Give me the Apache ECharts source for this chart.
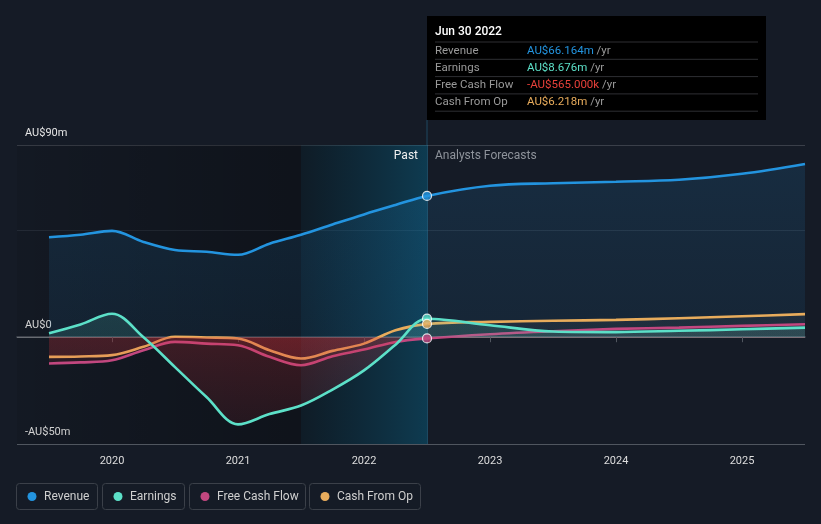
<!DOCTYPE html>
<html><head><meta charset="utf-8">
<script src="https://cdn.jsdelivr.net/npm/echarts@6/dist/echarts.min.js"></script>
<style>html,body{margin:0;padding:0;background:#151b26;}#c{width:821px;height:524px;}</style>
</head><body><div id="c"></div>
<script>
// ---- data ----
const years    = [2019.5, 2019.75, 2020.0, 2020.25, 2020.5, 2020.75, 2021.0, 2021.25, 2021.5, 2021.75, 2022.0, 2022.25, 2022.5, 2023.0, 2023.5, 2024.0, 2024.5, 2025.0, 2025.5];
const revenue  = [46.8, 48.0, 49.8, 44.6, 40.8, 40.0, 38.6, 43.8, 48.0, 52.8, 57.5, 61.9, 66.164, 70.9, 72.1, 72.8, 73.7, 76.5, 81.1];
const earnings = [1.9, 6.0, 11.0, 0.0, -14.0, -28.0, -40.8, -36.0, -32.0, -24.5, -15.5, -3.5, 8.676, 5.6, 2.7, 2.4, 3.0, 3.7, 4.5];
const fcf      = [-12.3, -11.8, -10.8, -6.1, -2.2, -3.0, -3.8, -9.2, -13.1, -8.9, -5.8, -2.2, -0.565, 1.4, 2.8, 3.9, 4.5, 5.3, 6.1];
const cfo      = [-9.2, -9.0, -8.4, -4.5, 0.2, -0.1, -0.6, -6.1, -10.0, -6.4, -3.0, 3.3, 6.218, 7.2, 7.7, 8.1, 8.9, 9.8, 10.8];
const yearTicks = [2020, 2021, 2022, 2023, 2024, 2025];
const yLabelValues = [-50, 0, 90];
const xMin = 2019.246, xMax = 2025.5;
const yMin = -50, yMax = 90;
const pastStart = 2021.5, pastEnd = 2022.5;
const tooltipDate = 'Jun 30 2022';
const seriesNames = ['Revenue', 'Earnings', 'Free Cash Flow', 'Cash From Op'];
const seriesColors = ['#2394df', '#5ce0c8', '#c2477f', '#e8ac5c'];
const valueColors = ['#2394df', '#5ce0c8', '#e8403a', '#e8ac5c'];

const FONT = 'Roboto, "Noto Sans", sans-serif';
const chart = echarts.init(document.getElementById('c'));
const idx = years.indexOf(pastEnd);
const pts = arr => years.map((x, i) => [x, arr[i]]);
const yFmt = v => v === 0 ? 'AU$0' : (v < 0 ? '-AU$' + (-v) + 'm' : 'AU$' + v + 'm');

function line(name, data, color, z, area) {
  return {
    type: 'line', name, data: pts(data), smooth: 0.35, showSymbol: false, z,
    lineStyle: { color, width: 2.6 }, itemStyle: { color },
    areaStyle: area
  };
}

const option = {
  backgroundColor: '#151b26',
  animation: false,
  textStyle: { fontFamily: FONT },
  grid: { left: 17, right: 16, top: 145, bottom: 80 },
  xAxis: {
    type: 'value', min: xMin, max: xMax,
    axisLine: { lineStyle: { color: '#50565f', width: 1.5 } },
    axisTick: { show: true, customValues: yearTicks, length: 5, lineStyle: { color: '#50565f' } },
    axisLabel: { customValues: yearTicks, color: '#dddddd', fontSize: 11, margin: 12, formatter: v => String(Math.round(v)) },
    splitLine: { show: false }
  },
  yAxis: {
    type: 'value', min: yMin, max: yMax, interval: 50,
    axisLine: { show: false }, axisTick: { show: false },
    axisLabel: {
      inside: true, margin: 8, color: '#e6e6e6', fontSize: 11,
      verticalAlign: 'bottom', padding: [0, 0, 6, 0],
      formatter: v => yLabelValues.includes(v) ? yFmt(v) : ''
    },
    splitLine: { lineStyle: { color: ['#50565f', '#d8d8d8', '#262d39', '#3a3f49'], width: 1 } }
  },
  series: []
};
chart.setOption(option);

const xPast = chart.convertToPixel({ xAxisIndex: 0 }, pastEnd);
const yTop = chart.convertToPixel({ yAxisIndex: 0 }, yMax);
const yZero = chart.convertToPixel({ yAxisIndex: 0 }, 0);
const yBot = chart.convertToPixel({ yAxisIndex: 0 }, yMin);
const f0 = (yZero - yTop) / (yBot - yTop);

function signed(rgb, pa0, pa1, na0, na1) {
  return {
    type: 'linear', x: 0, y: yTop, x2: 0, y2: yBot, global: true,
    colorStops: [
      { offset: 0, color: `rgba(${rgb},${pa0})` },
      { offset: f0, color: `rgba(${rgb},${pa1})` },
      { offset: f0, color: `rgba(215,50,58,${na0})` },
      { offset: 1, color: `rgba(215,50,58,${na1})` }
    ]
  };
}

const revenueSeries = line('Revenue', revenue, seriesColors[0], 2, {
  color: { type: 'linear', x: 0, y: 0, x2: 0, y2: 1, colorStops: [
    { offset: 0, color: 'rgba(35,148,223,0.2)' }, { offset: 1, color: 'rgba(35,148,223,0.12)' }] }
});
revenueSeries.markArea = {
  silent: true,
  data: [
    [{ xAxis: xMin, itemStyle: { color: { type: 'linear', x: 0, y: 0, x2: 1, y2: 0, colorStops: [
        { offset: 0, color: 'rgba(0,0,0,0.08)' }, { offset: 1, color: 'rgba(0,0,0,0.3)' }] } } }, { xAxis: pastStart }],
    [{ xAxis: pastStart, itemStyle: { color: { type: 'linear', x: 0, y: 0, x2: 1, y2: 0, colorStops: [
        { offset: 0, color: 'rgba(0,30,40,0.3)' }, { offset: 1, color: 'rgba(0,115,155,0.36)' }] } },
       label: { show: true, formatter: 'Past', position: 'insideTopRight', distance: 5, offset: [-4, 0], color: '#f0f0f0', fontSize: 12 } },
     { xAxis: pastEnd }],
    [{ xAxis: pastEnd, itemStyle: { color: 'rgba(0,0,0,0)' },
       label: { show: true, formatter: 'Analysts Forecasts', position: 'insideTopLeft', distance: 5, offset: [3, 0], color: '#8e939b', fontSize: 12 } },
     { xAxis: xMax }]
  ]
};

const cfoSeries = line('Cash From Op', cfo, seriesColors[3], 3, { color: signed('190,180,170', 0.1, 0.08, 0.2, 0.06) });
const fcfSeries = line('Free Cash Flow', fcf, seriesColors[2], 4, { color: signed('190,180,170', 0.08, 0.06, 0.2, 0.06) });
const earnSeries = line('Earnings', earnings, seriesColors[1], 5, { color: signed('92,224,200', 0.32, 0.18, 0.32, 0.1) });

const dotSeries = {
  type: 'scatter', z: 10, symbolSize: 9,
  data: [revenue, earnings, fcf, cfo].map((arr, i) => ({
    value: [years[idx], arr[idx]],
    itemStyle: { color: seriesColors[i], borderColor: '#ffffff', borderWidth: 1.2 }
  }))
};

const vline = {
  type: 'line', data: [], z: 1,
  markLine: { silent: true, symbol: 'none', label: { show: false },
    lineStyle: { color: 'rgba(40,130,170,0.45)', width: 1, type: 'solid' },
    data: [{ xAxis: pastEnd }] }
};

// tooltip graphic
function money(v) {
  const s = v < 0 ? '-' : '';
  const a = Math.abs(v);
  return a < 1 ? s + 'AU$' + (a * 1000).toFixed(3) + 'k' : s + 'AU$' + a.toFixed(3) + 'm';
}
const boxX = xPast, boxY = 16, boxW = 339, boxH = 104;
const g = [];
g.push({ type: 'line', shape: { x1: xPast, y1: boxY + boxH, x2: xPast, y2: yTop }, style: { stroke: 'rgba(40,130,170,0.45)', lineWidth: 1 }, z: 20 });
g.push({ type: 'rect', shape: { x: boxX, y: boxY, width: boxW, height: boxH }, style: { fill: '#000000' }, z: 20 });
g.push({ type: 'text', x: boxX + 8, y: boxY + 16, style: { text: tooltipDate, fill: '#ffffff', fontSize: 12, fontWeight: 500, fontFamily: FONT, verticalAlign: 'middle' }, z: 21 });
const rowY0 = boxY + 26;
const rowH = 17.3;
const vals = [revenue[idx], earnings[idx], fcf[idx], cfo[idx]];
for (let i = 0; i <= 4; i++) {
  g.push({ type: 'line', shape: { x1: boxX + 8, y1: rowY0 + i * rowH, x2: boxX + boxW - 8, y2: rowY0 + i * rowH }, style: { stroke: '#2e2f33', lineWidth: 1 }, z: 21 });
}
seriesNames.forEach((n, i) => {
  const cy = rowY0 + i * rowH + rowH / 2;
  g.push({ type: 'text', x: boxX + 8, y: cy, style: { text: n, fill: '#9a9a9a', fontSize: 11.5, fontFamily: FONT, verticalAlign: 'middle' }, z: 21 });
  g.push({ type: 'text', x: boxX + 100, y: cy, style: {
    text: '{v|' + money(vals[i]) + '} {u|/yr}', verticalAlign: 'middle', fontFamily: FONT, fontSize: 11.5,
    rich: { v: { fill: valueColors[i], fontSize: 11.5, fontFamily: FONT }, u: { fill: '#9a9a9a', fontSize: 11.5, fontFamily: FONT } }
  }, z: 21 });
});

// legend graphic
const legendX = [16, 102, 189, 309];
const legendW = [81, 82, 116, 111];
seriesNames.forEach((n, i) => {
  g.push({ type: 'rect', shape: { x: legendX[i] + 0.5, y: 483.5, width: legendW[i], height: 26, r: 3 }, style: { fill: 'rgba(0,0,0,0)', stroke: '#3b4049', lineWidth: 1 }, z: 20 });
  g.push({ type: 'circle', shape: { cx: legendX[i] + 16, cy: 496.5, r: 4.5 }, style: { fill: seriesColors[i] }, z: 21 });
  g.push({ type: 'text', x: legendX[i] + 28, y: 496.5, style: { text: n, fill: '#cfcfcf', fontSize: 12, fontFamily: FONT, verticalAlign: 'middle' }, z: 21 });
});

chart.setOption({ series: [revenueSeries, cfoSeries, fcfSeries, earnSeries, vline, dotSeries], graphic: g });
</script>
</body></html>
